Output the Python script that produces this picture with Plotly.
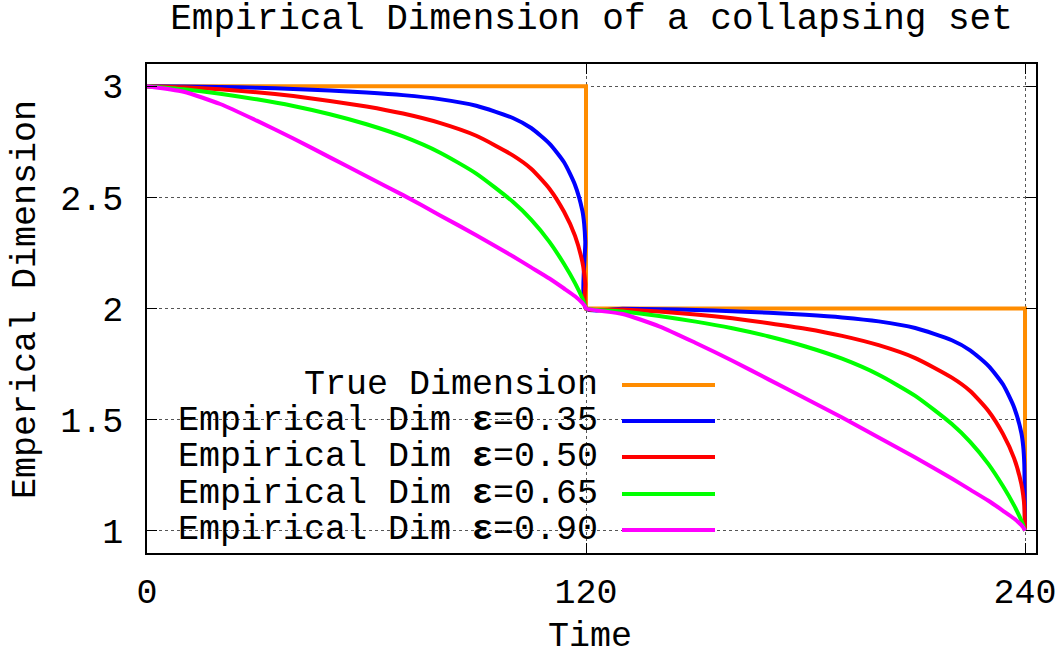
import plotly.graph_objects as go

# ---------------- data ----------------
time = [0, 10, 20, 30, 40, 50, 60, 70, 80, 90, 100, 105, 110, 114, 117, 119, 119.5, 119.8, 120,
        130, 140, 150, 160, 170, 180, 190, 200, 210, 220, 225, 230, 234, 237, 239, 239.5, 239.8, 240]

true_time = [0, 120, 120, 240, 240]
true_dim = [3, 3, 2, 2, 1]

dim_035 = [3, 2.999, 2.997, 2.993, 2.988, 2.981, 2.972, 2.960, 2.942, 2.912, 2.857, 2.812, 2.742, 2.658, 2.556, 2.440, 2.380, 2.300, 2.0,
           1.999, 1.997, 1.993, 1.988, 1.981, 1.972, 1.960, 1.942, 1.912, 1.857, 1.812, 1.742, 1.658, 1.556, 1.440, 1.380, 1.300, 1.0]
dim_050 = [3, 2.995, 2.986, 2.973, 2.956, 2.934, 2.909, 2.877, 2.835, 2.777, 2.689, 2.629, 2.539, 2.435, 2.327, 2.210, 2.160, 2.112, 2.0,
           1.995, 1.986, 1.973, 1.956, 1.934, 1.909, 1.877, 1.835, 1.777, 1.689, 1.629, 1.539, 1.435, 1.327, 1.210, 1.160, 1.112, 1.0]
dim_065 = [3, 2.986, 2.966, 2.941, 2.911, 2.874, 2.829, 2.774, 2.702, 2.607, 2.48, 2.40, 2.30, 2.20, 2.114, 2.046, 2.025, 2.01, 2.0,
           1.986, 1.966, 1.941, 1.911, 1.874, 1.829, 1.774, 1.702, 1.607, 1.48, 1.40, 1.30, 1.20, 1.114, 1.046, 1.025, 1.01, 1.0]
dim_090 = [3, 2.975, 2.92, 2.845, 2.765, 2.68, 2.595, 2.51, 2.42, 2.33, 2.235, 2.185, 2.135, 2.09, 2.055, 2.025, 2.015, 2.007, 2.0,
           1.975, 1.92, 1.845, 1.765, 1.68, 1.595, 1.51, 1.42, 1.33, 1.235, 1.185, 1.135, 1.09, 1.055, 1.025, 1.015, 1.007, 1.0]

series_names = ["True Dimension",
                "Empirical Dim <b>ε</b>=0.35",
                "Empirical Dim <b>ε</b>=0.50",
                "Empirical Dim <b>ε</b>=0.65",
                "Empirical Dim <b>ε</b>=0.90"]
series_colors = ["#ff8c00", "#0000ff", "#ff0000", "#00ff00", "#ff00ff"]

x_ticks = [0, 120, 240]
x_tick_text = ["0", "120", "240"]
y_ticks = [1, 1.5, 2, 2.5, 3]
y_tick_text = ["1", "1.5", "2", "2.5", "3"]

title_text = "Empirical Dimension of a collapsing set"
x_title = "Time"
y_title = "Emperical Dimension"

FONT = "Liberation Mono, Courier New, monospace"
FS = 35

# ---------------- figure ----------------
fig = go.Figure()
series_x = [true_time, time, time, time, time]
series_y = [true_dim, dim_035, dim_050, dim_065, dim_090]
for xs, ys, name, col in zip(series_x, series_y, series_names, series_colors):
    fig.add_trace(go.Scatter(x=xs, y=ys, mode="lines", name=name,
                             line=dict(color=col, width=4, shape="spline" if xs is time else "linear",
                                       smoothing=0.6),
                             showlegend=False))

# custom gnuplot-style key: text right, sample line on the right
L, R, T, B = 147, 1036, 64, 553
W, H = R - L, B - T
def px(x):
    return (x - L) / W
def py(y):
    return (B - y) / H

# white key box hiding grid lines
fig.add_shape(type="rect", xref="paper", yref="paper",
              x0=px(165), x1=px(740), y0=py(548), y1=py(365),
              fillcolor="white", line=dict(width=0), layer="between")

rows = [385, 421, 457, 494, 530]
for name, col, ry in zip(series_names, series_colors, rows):
    fig.add_annotation(xref="paper", yref="paper", x=px(600), y=py(ry),
                       xanchor="right", yanchor="middle", text=name, showarrow=False,
                       font=dict(family=FONT, size=FS, color="black"))
    fig.add_shape(type="line", xref="paper", yref="paper",
                  x0=px(622), x1=px(715), y0=py(ry), y1=py(ry),
                  line=dict(color=col, width=4), layer="above")

# axis titles
fig.add_annotation(xref="paper", yref="paper", x=px(590), y=py(637),
                   xanchor="center", yanchor="middle", text=x_title, showarrow=False,
                   font=dict(family=FONT, size=FS, color="black"))
fig.add_annotation(xref="paper", yref="paper", x=px(26), y=py(300), textangle=-90,
                   xanchor="center", yanchor="middle", text=y_title, showarrow=False,
                   font=dict(family=FONT, size=FS, color="black"))

axis_common = dict(showline=True, linecolor="black", linewidth=1.5, mirror="ticks",
                   ticks="inside", ticklen=10, tickcolor="black", tickwidth=1,
                   showgrid=True, gridcolor="#555555", griddash="dot", gridwidth=1,
                   zeroline=False, automargin=False,
                   tickfont=dict(family=FONT, size=FS, color="black"))

fig.update_xaxes(range=[0, 243], tickmode="array", tickvals=x_ticks, ticktext=x_tick_text,
                 ticklabelstandoff=6, **axis_common)
fig.update_yaxes(range=[0.9, 3.1], tickmode="array", tickvals=y_ticks, ticktext=y_tick_text,
                 ticklabelstandoff=15, **axis_common)

fig.update_layout(
    width=1061, height=661,
    margin=dict(l=L, r=1061 - R, t=T, b=661 - B, autoexpand=False),
    paper_bgcolor="white", plot_bgcolor="white",
    title=dict(text=title_text, x=(L + R) / 2 / 1061, xanchor="center",
               y=1 - 16 / 661, yanchor="middle", yref="container", automargin=False,
               font=dict(family=FONT, size=36, color="black")),
)

fig.write_html("out.html", config={"displayModeBar": False},
               post_script="document.body.style.margin='0';document.body.style.padding='0';")
